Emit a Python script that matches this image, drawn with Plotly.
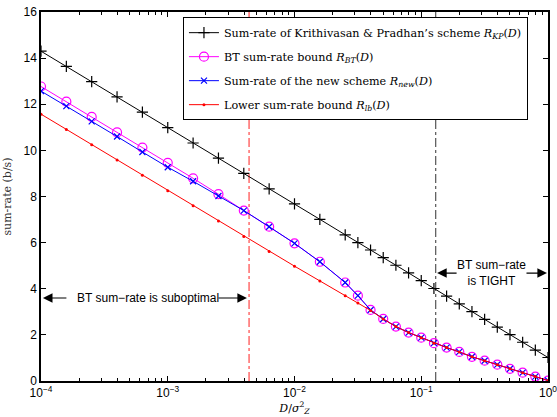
import plotly.graph_objects as go

# x grid (log10 of D / sigma_Z^2)
exps = [-4.0, -3.8, -3.6, -3.4, -3.2, -3.0, -2.8, -2.6, -2.4, -2.2, -2.0, -1.8, -1.6,
        -1.5, -1.4, -1.3, -1.2, -1.1, -1.0, -0.9, -0.8, -0.7, -0.6, -0.5, -0.4, -0.3,
        -0.2, -0.1, 0.0]
D = [10 ** e for e in exps]

r_kp = [14.30, 13.64, 12.98, 12.32, 11.66, 10.99, 10.32, 9.66, 9.00, 8.33, 7.68, 7.01, 6.34,
        6.00, 5.68, 5.35, 5.02, 4.69, 4.35, 4.01, 3.68, 3.34, 3.01, 2.67, 2.34, 2.01,
        1.68, 1.34, 1.02]
r_bt = [12.77, 12.11, 11.45, 10.78, 10.12, 9.46, 8.79, 8.10, 7.39, 6.69, 5.97, 5.17, 4.27,
        3.70, 3.08, 2.69, 2.36, 2.10, 1.88, 1.64, 1.45, 1.26, 1.05, 0.88, 0.71, 0.53,
        0.36, 0.19, 0.02]
r_new = [12.57, 11.92, 11.26, 10.60, 9.93, 9.27, 8.66, 8.02, 7.39, 6.69, 5.97, 5.17, 4.27,
         3.70, 3.08, 2.69, 2.36, 2.10, 1.88, 1.64, 1.45, 1.26, 1.05, 0.88, 0.71, 0.53,
         0.36, 0.19, 0.02]
r_lb = [11.57, 10.91, 10.24, 9.58, 8.92, 8.25, 7.60, 6.94, 6.27, 5.62, 4.98, 4.34, 3.70,
        3.38, 3.06, 2.69, 2.36, 2.10, 1.88, 1.64, 1.45, 1.26, 1.05, 0.88, 0.71, 0.53,
        0.36, 0.19, 0.02]

d_subopt = 0.00438   # red dash-dot marker line
d_tight = 0.130      # grey dash-dot marker line
y_range = [0, 16]

x_tickvals = [1e-4, 1e-3, 1e-2, 1e-1, 1]
x_ticktext = ["10<sup>−4</sup>", "10<sup>−3</sup>", "10<sup>−2</sup>", "10<sup>−1</sup>", "10<sup>0</sup>"]
x_minor = [m * d for d in [1e-4, 1e-3, 1e-2, 1e-1] for m in range(2, 10)]
y_tickvals = [0, 2, 4, 6, 8, 10, 12, 14, 16]

names = [
    "Sum-rate of Krithivasan &amp; Pradhan’s scheme <i>R</i><sub><i>KP</i></sub>(<i>D</i>)",
    "BT sum-rate bound <i>R</i><sub><i>BT</i></sub>(<i>D</i>)",
    "Sum-rate of the new scheme <i>R</i><sub><i>new</i></sub>(<i>D</i>)",
    "Lower sum-rate bound <i>R</i><sub><i>lb</i></sub>(<i>D</i>)",
]

fig = go.Figure()

# vertical reference lines
fig.add_trace(go.Scatter(x=[d_subopt, d_subopt], y=y_range, mode="lines",
                         line=dict(color="#ff2020", width=1, dash="dashdot"),
                         showlegend=False, hoverinfo="skip"))
fig.add_trace(go.Scatter(x=[d_tight, d_tight], y=y_range, mode="lines",
                         line=dict(color="#555555", width=1.2, dash="dashdot"),
                         showlegend=False, hoverinfo="skip"))

fig.add_trace(go.Scatter(x=D, y=r_kp, mode="lines+markers", name=names[0], legendgroup="a",
                         line=dict(color="black", width=1),
                         marker=dict(symbol="cross-thin", size=8, line=dict(color="black", width=1.2))))
fig.add_trace(go.Scatter(x=D, y=r_bt, mode="lines+markers", name=names[1], legendgroup="b",
                         line=dict(color="#ff00ff", width=1),
                         marker=dict(symbol="circle-open", size=9, color="#ff00ff", line=dict(width=1.2))))
fig.add_trace(go.Scatter(x=D, y=r_new, mode="lines+markers", name=names[2], legendgroup="c",
                         line=dict(color="blue", width=1),
                         marker=dict(symbol="x-thin", size=6, line=dict(color="blue", width=1.2))))
fig.add_trace(go.Scatter(x=D, y=r_lb, mode="lines+markers", name=names[3], legendgroup="d",
                         line=dict(color="red", width=1),
                         marker=dict(symbol="circle", size=3, color="red")))

ann_font = dict(family="Liberation Sans, Arial", size=12, color="black")
annotations = [
    dict(x=-3.152, y=3.6, xref="x", yref="y", text="BT sum−rate is suboptimal",
         showarrow=False, font=ann_font),
    dict(x=-0.442, y=4.68, xref="x", yref="y", text="BT sum−rate<br>is TIGHT",
         showarrow=False, font=ann_font),
    # arrows
    dict(x=-3.985, y=3.6, xref="x", yref="y", text="", showarrow=True, ax=25, ay=0,
         arrowhead=2, arrowsize=1.6, arrowwidth=1.2, arrowcolor="black"),
    dict(x=-2.375, y=3.6, xref="x", yref="y", text="", showarrow=True, ax=-30, ay=0,
         arrowhead=2, arrowsize=1.6, arrowwidth=1.2, arrowcolor="black"),
    dict(x=-0.875, y=4.68, xref="x", yref="y", text="", showarrow=True, ax=21, ay=0,
         arrowhead=2, arrowsize=1.6, arrowwidth=1.2, arrowcolor="black"),
    dict(x=-0.008, y=4.68, xref="x", yref="y", text="", showarrow=True, ax=-22, ay=0,
         arrowhead=2, arrowsize=1.6, arrowwidth=1.2, arrowcolor="black"),
]

fig.update_layout(
    width=557, height=417,
    margin=dict(l=41, r=9, t=12, b=36),
    plot_bgcolor="white", paper_bgcolor="white",
    font=dict(family="Liberation Sans, Arial", size=12, color="black"),
    showlegend=True,
    legend=dict(x=0.280, y=0.986, xanchor="left", yanchor="top",
                bgcolor="white", bordercolor="black", borderwidth=1,
                font=dict(family="DejaVu Serif", size=11.2, color="black"),
                tracegroupgap=5, itemwidth=30),
    annotations=annotations,
    xaxis=dict(type="log", range=[-4, 0], tickvals=x_tickvals, ticktext=x_ticktext,
               ticks="inside", ticklen=5, tickcolor="black", showgrid=False, zeroline=False,
               showline=True, linecolor="black", linewidth=1.5, mirror="ticks", automargin=False,
               ticklabeloverflow="allow",
               minor=dict(tickvals=x_minor, ticks="inside", ticklen=3, tickcolor="black", showgrid=False),
               title=dict(text="<i>D</i>/<i>σ</i><sup>2</sup><sub><i>Z</i></sub>",
                          font=dict(family="DejaVu Serif", size=11), standoff=4),
               tickfont=dict(family="Liberation Sans, Arial", size=12)),
    yaxis=dict(range=y_range, tickvals=y_tickvals, ticks="inside", ticklen=5, tickcolor="black",
               showgrid=False, zeroline=False, showline=True, linecolor="black", linewidth=1.5,
               mirror="ticks", automargin=False, ticklabeloverflow="allow",
               title=dict(text="sum-rate (b/s)", font=dict(family="DejaVu Serif", size=11, color="#333333"),
                          standoff=10),
               tickfont=dict(family="Liberation Sans, Arial", size=12)),
)

fig.write_html("out.html")
